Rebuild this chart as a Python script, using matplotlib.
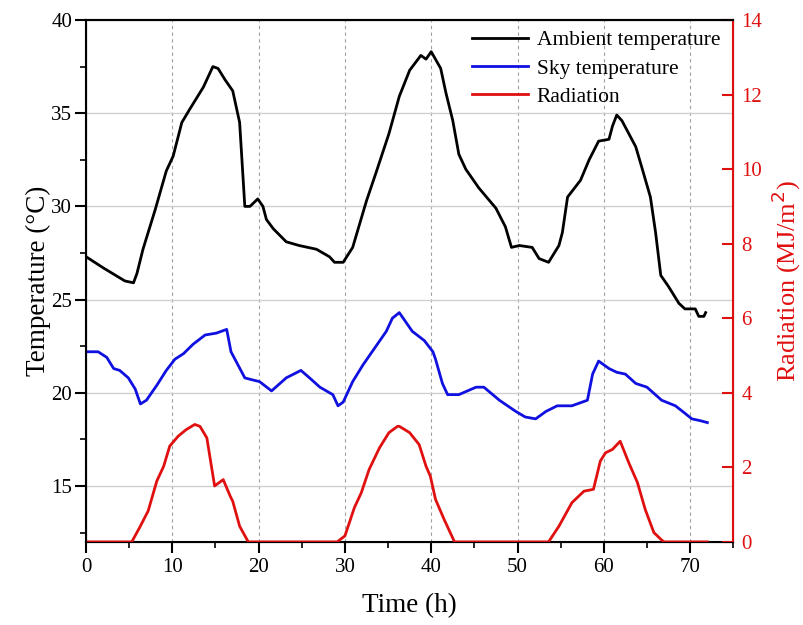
import matplotlib.pyplot as plt
from matplotlib.ticker import MultipleLocator

plt.rcParams['font.family'] = ['Liberation Serif', 'DejaVu Serif']

# Ambient temperature (h, degC)
amb_t = [0, 2.0, 4.5, 5.5, 5.9, 6.6, 8.0, 9.3, 10.1, 11.1, 12.0, 13.6, 14.7, 15.3, 16.1, 17.0,
         17.8, 18.4, 19.0, 19.9, 20.5, 20.9, 21.7, 23.2, 24.7, 26.7, 28.2, 28.8, 29.8,
         30.9, 32.5, 33.6, 35.1, 36.3, 37.5, 38.8, 39.4, 40.0, 41.1, 41.7, 42.5, 43.2,
         44.0, 45.5, 47.5, 48.6, 49.3, 50.2, 51.7, 52.5, 53.6, 54.8, 55.2, 55.8, 56.3,
         57.3, 58.3, 59.4, 60.6, 61.0, 61.5, 62.1, 62.9, 63.7, 64.4, 65.4, 66.0, 66.6,
         67.5, 68.7, 69.4, 70.6, 71.0, 71.6, 71.8]
amb_v = [27.3, 26.7, 26.0, 25.9, 26.4, 27.7, 29.8, 31.9, 32.7, 34.5, 35.2, 36.4, 37.5, 37.4, 36.8, 36.2,
         34.5, 30.0, 30.0, 30.4, 30.0, 29.3, 28.8, 28.1, 27.9, 27.7, 27.3, 27.0, 27.0,
         27.8, 30.3, 31.8, 33.9, 35.9, 37.3, 38.1, 37.9, 38.3, 37.4, 36.1, 34.6, 32.8,
         32.0, 31.0, 29.9, 28.9, 27.8, 27.9, 27.8, 27.2, 27.0, 27.9, 28.6, 30.5, 30.8,
         31.4, 32.5, 33.5, 33.6, 34.3, 34.9, 34.6, 33.9, 33.2, 32.1, 30.5, 28.6, 26.3,
         25.7, 24.8, 24.5, 24.5, 24.1, 24.1, 24.3]

# Sky temperature (h, degC)
sky_t = [0, 1.4, 2.4, 3.2, 3.9, 4.9, 5.7, 6.3, 7.0, 8.2, 9.3, 10.3, 11.3, 12.4, 13.8,
         15.1, 16.3, 16.8, 17.6, 18.4, 19.2, 20.1, 21.5, 23.2, 24.9, 25.9, 27.1, 28.6,
         29.2, 29.8, 30.9, 32.1, 33.6, 34.8, 35.5, 36.3, 37.8, 39.2, 40.2, 40.5, 41.3,
         41.9, 43.2, 45.2, 46.1, 47.9, 49.8, 50.9, 52.1, 53.3, 54.6, 56.3, 58.1, 58.7,
         59.4, 60.6, 61.5, 62.5, 63.7, 65.0, 66.7, 68.3, 69.4, 70.2, 71.2, 72.0]
sky_v = [22.2, 22.2, 21.9, 21.3, 21.2, 20.8, 20.2, 19.4, 19.6, 20.4, 21.2, 21.8, 22.1, 22.6,
         23.1, 23.2, 23.4, 22.2, 21.5, 20.8, 20.7, 20.6, 20.1, 20.8, 21.2, 20.8, 20.3,
         19.9, 19.3, 19.5, 20.6, 21.5, 22.5, 23.3, 24.0, 24.3, 23.3, 22.8, 22.2, 21.8,
         20.5, 19.9, 19.9, 20.3, 20.3, 19.6, 19.0, 18.7, 18.6, 19.0, 19.3, 19.3, 19.6,
         21.0, 21.7, 21.3, 21.1, 21.0, 20.5, 20.3, 19.6, 19.3, 18.9, 18.6, 18.5, 18.4]

# Radiation (h, MJ/m2)
rad_t = [0, 5.3, 6.2, 7.2, 8.2, 9.0, 9.7, 10.7, 11.6, 12.6, 13.2, 14.0, 14.9, 15.9,
         16.7, 17.0, 17.8, 18.8, 29.1, 30.0, 31.1, 31.9, 32.8, 34.0, 35.1, 36.1, 36.3,
         37.5, 38.6, 39.4, 39.9, 40.5, 41.5, 42.7, 53.6, 54.8, 56.3, 57.7, 58.8, 59.6,
         60.2, 61.0, 61.9, 62.9, 63.9, 64.8, 65.8, 66.7, 67.0, 72.0]
rad_v = [0, 0, 0.38, 0.83, 1.63, 2.03, 2.57, 2.84, 3.01, 3.15, 3.10, 2.79, 1.50, 1.67,
         1.23, 1.09, 0.42, 0, 0, 0.16, 0.92, 1.32, 1.94, 2.52, 2.93, 3.10, 3.10,
         2.93, 2.61, 2.03, 1.76, 1.14, 0.60, 0, 0, 0.42, 1.05, 1.36, 1.41, 2.17,
         2.39, 2.48, 2.70, 2.12, 1.59, 0.87, 0.25, 0.05, 0, 0]

fig = plt.figure(figsize=(8.04, 6.25), dpi=100)
ax = fig.add_axes([0.107, 0.133, 0.805, 0.835])
ax2 = ax.twinx()

ax.grid(axis='y', color='#d0d0d0', lw=1)
ax.grid(axis='x', color='#a0a0a0', lw=0.8, ls=(0, (3, 3)))
ax.set_axisbelow(True)

l1, = ax.plot(amb_t, amb_v, color='black', lw=2, label='Ambient temperature')
l2, = ax.plot(sky_t, sky_v, color='#1010e0', lw=2, label='Sky temperature')
l3, = ax2.plot(rad_t, rad_v, color='#e01010', lw=2, label='Radiation')

ax.set_xlim(0, 75)
ax.set_ylim(12, 40)
ax2.set_ylim(0, 14)

ax.xaxis.set_major_locator(MultipleLocator(10))
ax.xaxis.set_minor_locator(MultipleLocator(5))
ax.yaxis.set_major_locator(MultipleLocator(5))
ax.yaxis.set_minor_locator(MultipleLocator(2.5))
ax2.yaxis.set_major_locator(MultipleLocator(2))

ax.tick_params(axis='both', which='major', labelsize=15, width=1.5, length=8, direction='out')
ax.tick_params(axis='both', which='minor', width=1.2, length=4, direction='out')
ax.tick_params(axis='y', which='major', pad=2)
ax2.tick_params(axis='y', which='major', labelsize=15, width=1.5, length=8,
                direction='in', colors='#e01010', pad=6)

for s in ['left', 'top', 'bottom']:
    ax.spines[s].set_linewidth(1.5)
ax2.spines['right'].set_color('#e01010')
ax2.spines['right'].set_linewidth(1.5)
ax2.spines['top'].set_linewidth(1.5)

ax.set_xlabel('Time (h)', fontsize=19.5, labelpad=12)
ax.set_ylabel('Temperature (°C)', fontsize=19.5, labelpad=0)
ax2.set_ylabel('Radiation (MJ/m$^2$)', fontsize=19, color='#e01010', labelpad=5)

ax.legend(handles=[l1, l2, l3], loc='upper right', frameon=False, fontsize=15.5,
          handlelength=2.6, handletextpad=0.4, labelspacing=0.38,
          bbox_to_anchor=(1.0, 1.005), borderaxespad=0.2)

fig.savefig('out.png', dpi=100)
